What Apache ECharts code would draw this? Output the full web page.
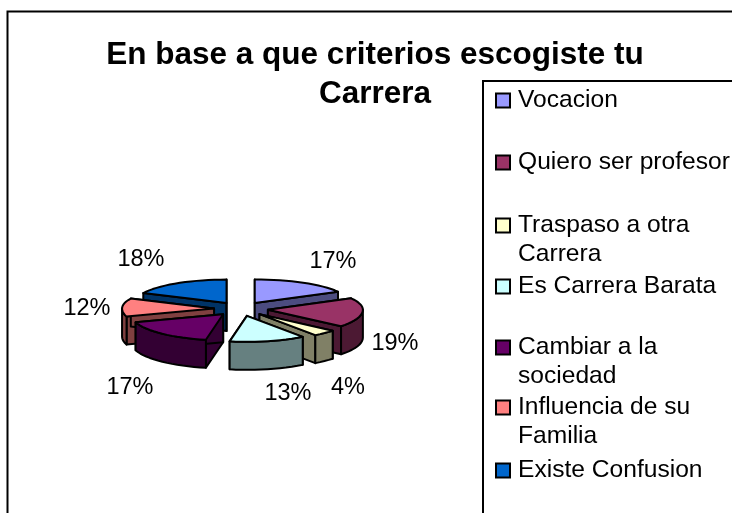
<!DOCTYPE html>
<html><head><meta charset="utf-8">
<style>html,body{margin:0;padding:0;background:#fff}#c{width:732px;height:513px}</style>
<script src="https://cdn.jsdelivr.net/npm/echarts@6/dist/echarts.min.js"></script>
</head><body><div id="c"></div>
<script>
const categories = ['Vocacion','Quiero ser profesor','Traspaso a otra Carrera','Es Carrera Barata','Cambiar a la sociedad','Influencia de su Familia','Existe Confusion'];
const values = [17,19,4,13,17,12,18];
const topColors = ['#9999FF','#993366','#FFFFCC','#CCFFFF','#660066','#FF8080','#0066CC'];
const sideColors = ['#4C4C80','#4C1933','#808066','#668080','#330033','#804040','#003366'];
const legendText = ['Vocacion','Quiero ser profesor','\nTraspaso a otra\nCarrera','Es Carrera Barata','\nCambiar a la\nsociedad','\nInfluencia de su\nFamilia','Existe Confusion'];
const legendY = [99,161,224,285,346,406,469];
const labelAnchors = [[333,262],[395,344],[348,388],[288,394],[130,388],[87,309],[141,260]];
const paintOrder = [2,3,6,7,5,4,1];
const total = values.reduce((a,b)=>a+b,0);
const starts = []; values.reduce((s,v,i)=>(starts[i]=s,s+v),0);
const C = {x:241,y:309,rxRight:95,rxLeft:92,ryBack:23.5,ryFront:26,ex:27,ey:7,depth:28};
const rad = d=>d*Math.PI/180;
const FONT = '"Liberation Sans",Arial,sans-serif';
function renderSlice(i){
  return function(params,api){
    const v = api.value(0);
    const a0 = starts[i]/total*360, a1 = a0+v/total*360, mid=(a0+a1)/2;
    const ax = C.x+C.ex*Math.sin(rad(mid)), ay = C.y-C.ey*Math.cos(rad(mid));
    const pt = a=>{
      const sn=Math.sin(rad(a)), cs=Math.cos(rad(a));
      return [ax+(sn>0?C.rxRight:C.rxLeft)*sn, ay-(cs>0?C.ryBack:C.ryFront)*cs];
    };
    const down = p=>[p[0],p[1]+C.depth];
    const arc = (s,e)=>{const r=[];const n=Math.max(2,Math.ceil((e-s)/4));for(let k=0;k<=n;k++)r.push(pt(s+(e-s)*k/n));return r;};
    const style = {stroke:'#000',lineWidth:2,lineJoin:'round'};
    const poly = (points,fill)=>({type:'polygon',shape:{points},style:Object.assign({fill},style)});
    const children = [];
    [a0,a1].forEach(a=>{const p=pt(a);children.push(poly([[ax,ay],p,down(p),[ax,ay+C.depth]],sideColors[i]));});
    const s=Math.max(a0,90), e=Math.min(a1,270);
    if(e>s){const top=arc(s,e);children.push(poly(top.concat(top.slice().reverse().map(down)),sideColors[i]));}
    children.push(poly([[ax,ay]].concat(arc(a0,a1)),topColors[i]));
    return {type:'group',children};
  };
}
function renderLabel(i){
  return function(params,api){
    return {type:'text',x:labelAnchors[i][0],y:labelAnchors[i][1],
      style:{text:Math.round(api.value(0)/total*100)+'%',fill:'#000',font:'23.5px '+FONT,align:'center',verticalAlign:'middle'}};
  };
}
const series = categories.map((name,i)=>({
  type:'custom',name,coordinateSystem:'none',z:10+paintOrder[i],silent:true,animation:false,
  itemStyle:{color:topColors[i],borderColor:'#000',borderWidth:2},
  renderItem:renderSlice(i),data:[[values[i]]]
})).concat(categories.map((name,i)=>({
  type:'custom',name:name+' %',coordinateSystem:'none',z:30,silent:true,animation:false,
  renderItem:renderLabel(i),data:[[values[i]]]
})));
const LH = 29;
const legends = categories.map((name,i)=>{
  const lines = legendText[i].split('\n').length;
  const h = lines*LH;
  return {
    data:[name],left:495,top:legendY[i]-h/2,padding:0,orient:'vertical',selectedMode:false,
    icon:'rect',itemWidth:14,itemHeight:14,itemGap:0,z:20,
    itemStyle:{borderColor:'#000',borderWidth:2},
    formatter:()=>legendText[i],
    textStyle:{fontFamily:FONT,fontSize:24.6,color:'#000',lineHeight:LH,padding:[3,0,0,3]}
  };
});
const chart = echarts.init(document.getElementById('c'),null,{renderer:'canvas'});
chart.setOption({
  backgroundColor:'#fff',animation:false,tooltip:{show:false},
  title:{text:'En base a que criterios escogiste tu\nCarrera',left:375,top:36,textAlign:'center',padding:0,
    textStyle:{fontFamily:FONT,fontSize:31.5,fontWeight:'bold',color:'#000',lineHeight:39}},
  legend:legends,
  graphic:[
    {type:'rect',z:0,shape:{x:7.5,y:11.5,width:760,height:540},style:{fill:'#fff',stroke:'#000',lineWidth:2}},
    {type:'rect',z:1,shape:{x:483,y:81,width:300,height:470},style:{fill:'#fff',stroke:'#000',lineWidth:2}}
  ],
  series
});
</script></body></html>
